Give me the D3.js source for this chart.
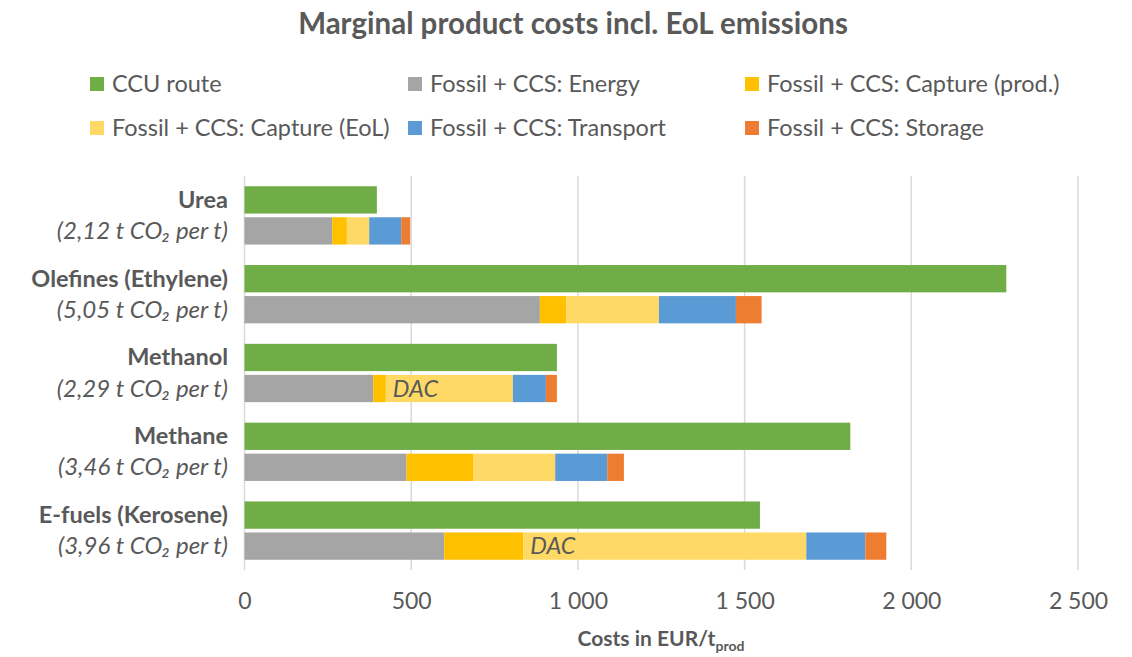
<!DOCTYPE html>
<html>
<head>
<meta charset="utf-8">
<script src="https://cdn.jsdelivr.net/npm/d3@7"></script>
<style>
  body { margin: 0; background: #fff; }
  text { font-family: Lato, "Open Sans", sans-serif; fill: #595959; }
</style>
</head>
<body>
<div id="chart"></div>
<script>
// products (top to bottom) and the CO2 note under each name
var products = ["Urea", "Olefines (Ethylene)", "Methanol", "Methane", "E-fuels (Kerosene)"];
var co2Notes = ["2,12", "5,05", "2,29", "3,46", "3,96"];

// CCU route costs, EUR/t product
var ccuRoute = [397, 2285, 937, 1817, 1546];

// Fossil + CCS stack, EUR/t product
var energy = [263, 886, 386, 486, 599];
var captureProd = [44, 79, 38, 201, 237];
var captureEoL = [67, 278, 381, 245, 849];
var transport = [96, 231, 99, 156, 177];
var storage = [27, 77, 33, 50, 63];
var eolNote = ["", "", "DAC", "", "DAC"];

var xTicks = [0, 500, 1000, 1500, 2000, 2500];

var seriesNames = ["CCU route", "Fossil + CCS: Energy", "Fossil + CCS: Capture (prod.)",
  "Fossil + CCS: Capture (EoL)", "Fossil + CCS: Transport", "Fossil + CCS: Storage"];
var colors = ["#70AD47", "#A5A5A5", "#FFC000", "#FFD966", "#5B9BD5", "#ED7D31"];

var width = 1132, height = 657;
var plot = { left: 244.5, right: 1078, top: 176, bottom: 570 };

var svg = d3.select("#chart").append("svg")
  .attr("width", width).attr("height", height);

var x = d3.scaleLinear().domain([0, 2500]).range([plot.left, plot.right]);
var y = d3.scaleBand().domain(products).range([plot.top, plot.bottom])
  .paddingInner(0.26).paddingOuter(0.13);
var ySub = d3.scaleBand().domain(["ccu", "fossil"]).range([0, y.bandwidth()])
  .paddingInner(0.12).paddingOuter(0);

// title
svg.append("text")
  .attr("x", 573).attr("y", 34)
  .attr("text-anchor", "middle")
  .style("font-size", "29.5px").style("font-weight", "bold")
  .text("Marginal product costs incl. EoL emissions");

// legend
var legendPos = [[90, 84], [408, 84], [745, 84], [90, 128], [408, 128], [745, 128]];
var legend = svg.append("g").selectAll("g").data(seriesNames).enter().append("g")
  .attr("transform", function (d, i) { return "translate(" + legendPos[i][0] + "," + legendPos[i][1] + ")"; });
legend.append("rect")
  .attr("x", 0).attr("y", -7).attr("width", 14).attr("height", 14)
  .attr("fill", function (d, i) { return colors[i]; });
legend.append("text")
  .attr("x", 22).attr("y", 8)
  .style("font-size", "23.5px")
  .text(function (d) { return d; });

// gridlines
svg.append("g").selectAll("line").data(xTicks).enter().append("line")
  .attr("x1", function (d) { return x(d); }).attr("x2", function (d) { return x(d); })
  .attr("y1", plot.top).attr("y2", plot.bottom)
  .attr("stroke", "#D9D9D9").attr("stroke-width", 1.5);

// x axis labels
var fmt = d3.formatLocale({ decimal: ",", thousands: "\u00a0", grouping: [3], currency: ["", ""] }).format(",d");
var xAxis = d3.axisBottom(x).tickValues(xTicks).tickSize(0).tickPadding(0).tickFormat(fmt);
var gx = svg.append("g").attr("transform", "translate(0," + 595 + ")").call(xAxis);
gx.select(".domain").remove();
gx.selectAll("text").style("font-size", "23px").style("font-family", "Lato, sans-serif")
  .attr("fill", "#595959").attr("dy", "0.6em");

// axis title
var at = svg.append("text").attr("x", 661).attr("y", 646).attr("text-anchor", "middle")
  .style("font-size", "21px").style("font-weight", "bold");
at.append("tspan").text("Costs in EUR/t");
at.append("tspan").attr("dy", 5).style("font-size", "14px").text("prod");

// category labels
var labels = svg.append("g").selectAll("g").data(products).enter().append("g");
labels.append("text")
  .attr("x", 228)
  .attr("y", function (d) { return y(d) + ySub("ccu") + ySub.bandwidth() / 2 + 8; })
  .attr("text-anchor", "end")
  .style("font-size", "23.5px").style("font-weight", "bold")
  .text(function (d) { return d; });
labels.append("text")
  .attr("x", 228)
  .attr("y", function (d) { return y(d) + ySub("fossil") + ySub.bandwidth() / 2 + 8; })
  .attr("text-anchor", "end")
  .style("font-size", "24px").style("font-style", "italic")
  .text(function (d, i) { return "(" + co2Notes[i] + " t CO\u2082 per t)"; });

// CCU bars
svg.append("g").selectAll("rect").data(products).enter().append("rect")
  .attr("x", x(0))
  .attr("y", function (d) { return y(d) + ySub("ccu"); })
  .attr("width", function (d, i) { return x(ccuRoute[i]) - x(0); })
  .attr("height", ySub.bandwidth())
  .attr("fill", colors[0]);

// fossil + CCS stacked bars
var table = products.map(function (p, i) {
  return { product: p, energy: energy[i], captureProd: captureProd[i], captureEoL: captureEoL[i],
    transport: transport[i], storage: storage[i] };
});
var keys = ["energy", "captureProd", "captureEoL", "transport", "storage"];
var stacked = d3.stack().keys(keys)(table);

svg.append("g").selectAll("g").data(stacked).enter().append("g")
  .attr("fill", function (d, i) { return colors[i + 1]; })
  .selectAll("rect").data(function (d) { return d; }).enter().append("rect")
  .attr("x", function (d) { return x(d[0]); })
  .attr("y", function (d) { return y(d.data.product) + ySub("fossil"); })
  .attr("width", function (d) { return x(d[1]) - x(d[0]); })
  .attr("height", ySub.bandwidth());

// DAC notes in the EoL capture segment
var eolLayer = stacked[2];
svg.append("g").selectAll("text").data(eolLayer).enter().append("text")
  .attr("x", function (d) { return x(d[0]) + 7; })
  .attr("y", function (d) { return y(d.data.product) + ySub("fossil") + ySub.bandwidth() / 2 + 8; })
  .style("font-size", "23.5px").style("font-style", "italic")
  .text(function (d, i) { return eolNote[i]; });
</script>
</body>
</html>
